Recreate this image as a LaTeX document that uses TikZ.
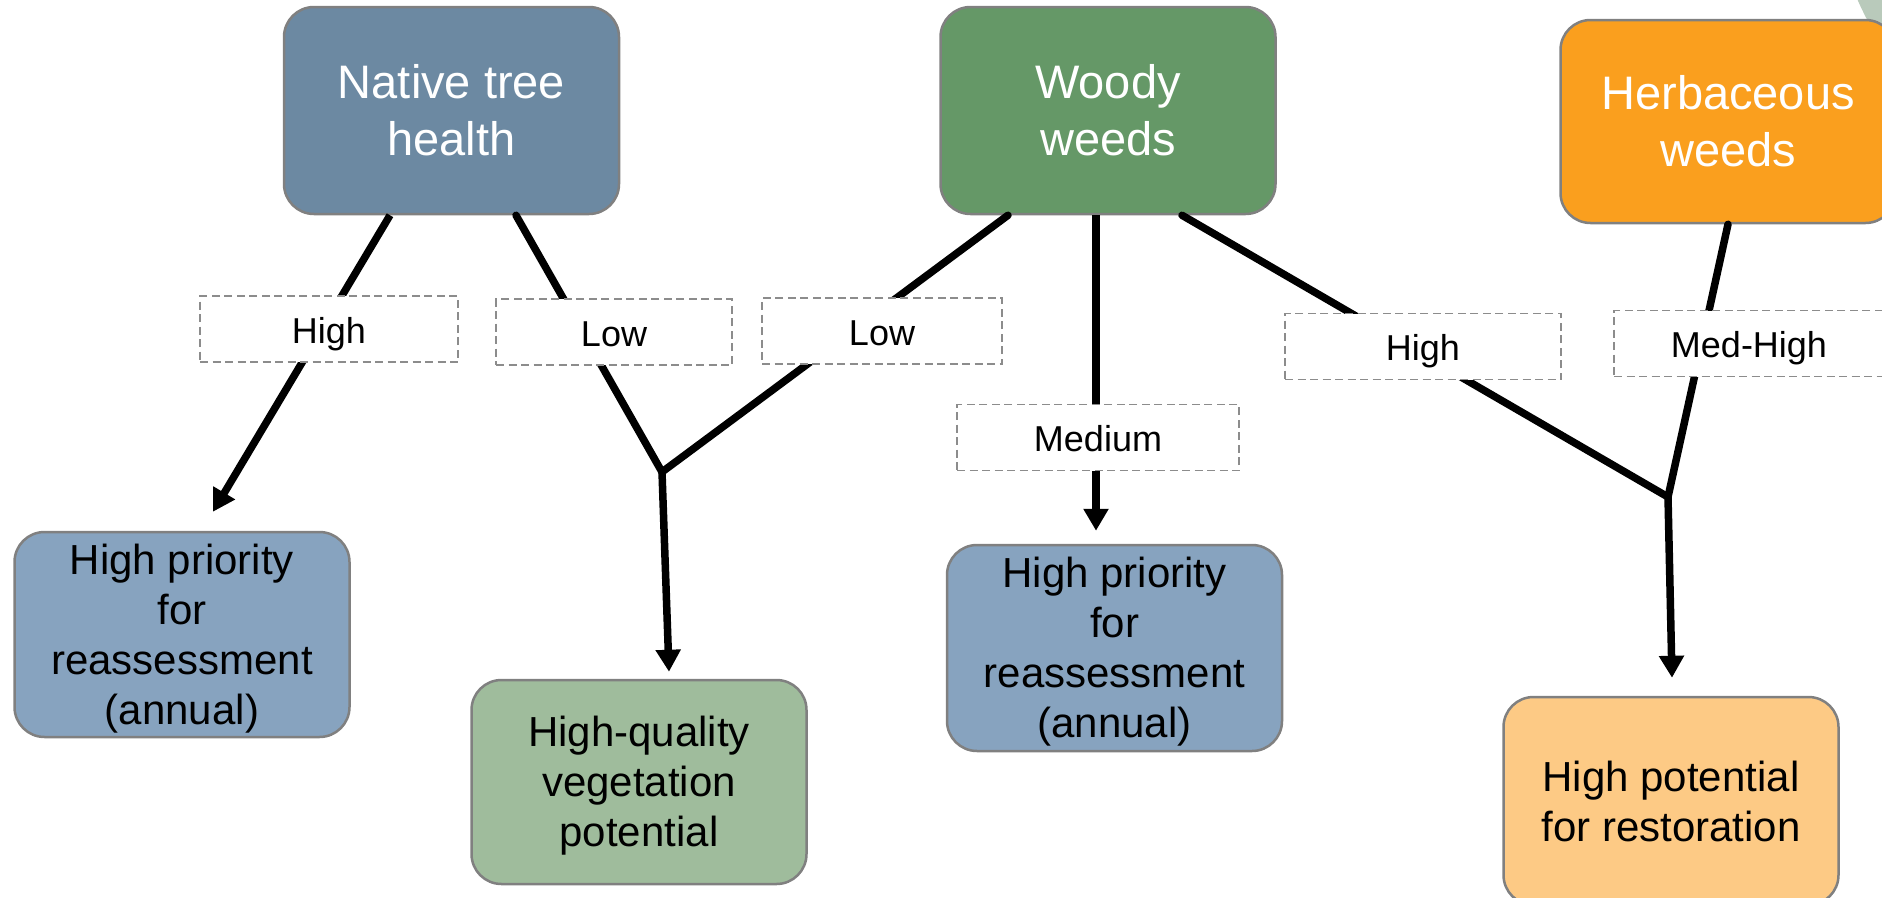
\documentclass[tikz,border=0pt]{standalone}
\usepackage{fontspec}
\setmainfont{Liberation Sans}
\usetikzlibrary{arrows.meta}

\definecolor{hdrblue}{RGB}{108,137,162}
\definecolor{hdrgreen}{RGB}{101,152,103}
\definecolor{hdrorange}{RGB}{250,159,30}
\definecolor{outblue}{RGB}{135,163,191}
\definecolor{outgreen}{RGB}{159,188,156}
\definecolor{outorange}{RGB}{253,202,133}
\definecolor{edgegray}{RGB}{128,128,128}
\definecolor{taggray}{RGB}{140,140,140}
\definecolor{sage}{RGB}{185,202,187}

% full-ascender strut for the first line of a text block
\newcommand{\ascstrut}{\rule{0pt}{0.905em}}

\tikzset{
  box/.style={draw=edgegray, line width=2.5pt, rounded corners=30pt,
    minimum width=335pt, minimum height=207pt, inner sep=0pt, align=center},
  head/.style={box, text=white, font=\fontsize{47}{57}\selectfont},
  outcome/.style={box, text=black, font=\fontsize{42}{50}\selectfont},
  tag/.style={draw=taggray, dash pattern=on 8pt off 4.5pt, line width=1.8pt,
    fill=white, inner sep=0pt, minimum height=66pt,
    text height=35pt, text depth=7pt,
    font=\fontsize{36}{43}\selectfont},
  link/.style={line width=7.5pt, line cap=round, black},
  arrowlink/.style={line width=7.5pt, black, -{Triangle[width=24pt,length=22pt]}}
}

\begin{document}
\begin{tikzpicture}[x=1pt,y=-1pt]
\useasboundingbox (0,0) rectangle (1882,897);
\clip (0,0) rectangle (1882,897);
\fill[white] (0,0) rectangle (1882,897);

% decorative disc peeking in at the top right corner
\fill[sage] (2158,-132) circle (328);

% criteria
\node[head, fill=hdrblue]   (nat)  at (451.5,110.5) {Native tree\\health};
\node[head, fill=hdrgreen]  (wood) at (1108,110.5)  {Woody\\weeds};
\node[head, fill=hdrorange, minimum height=203pt] (herb) at (1728,121.5) {Herbaceous\\weeds};

% outcomes
\node[outcome, fill=outblue, minimum height=205pt]  (prioL)  at (182,634.5)  {\ascstrut High priority\\for\\reassessment\\(annual)};
\node[outcome, fill=outgreen, minimum height=204pt] (qual)   at (639,782)    {\ascstrut High-quality\\vegetation\\potential};
\node[outcome, fill=outblue, minimum height=206pt]  (prioM)  at (1114.5,648) {\ascstrut High priority\\for\\reassessment\\(annual)};
\node[outcome, fill=outorange, minimum height=208pt] (resto) at (1671,801)   {High potential\\for restoration};

% connector end points on the criteria boxes
\coordinate (natL)  at ([xshift=-61.5pt]nat.south);
\coordinate (natR)  at ([xshift=64.5pt]nat.south);
\coordinate (woodL) at ([xshift=-100pt]wood.south);
\coordinate (woodC) at ([xshift=-12pt]wood.south);
\coordinate (woodR) at ([xshift=74pt]wood.south);
\coordinate (herbC) at (herb.south);

% branch points
\coordinate (jL) at (662,472);
\coordinate (jR) at (1668,497);

% arrow tips just above the outcome boxes
\coordinate (tipL) at ([xshift=31pt,yshift=19pt]prioL.north);
\coordinate (tipQ) at ([xshift=30pt,yshift=7pt]qual.north);
\coordinate (tipM) at ([xshift=-18.5pt,yshift=13pt]prioM.north);
\coordinate (tipR) at ([xshift=1pt,yshift=18pt]resto.north);

% connectors
\draw[arrowlink] (natL) -- (tipL);
\draw[link] (natR) -- (jL);
\draw[link] (woodL) -- (jL);
\draw[arrowlink] (jL) -- (tipQ);
\draw[arrowlink] (woodC) -- (tipM);
\draw[link] (woodR) -- (jR);
\draw[link] (herbC) -- (jR);
\draw[arrowlink] (jR) -- (tipR);

% condition labels
\node[tag, minimum width=258pt] (lHighL) at (329,329)    {High};
\node[tag, minimum width=236pt] (lLowL)  at (614,332)    {Low};
\node[tag, minimum width=240pt] (lLowM)  at (882,331)    {Low};
\node[tag, minimum width=282pt] (lMed)   at (1098,437.5) {Medium};
\node[tag, minimum width=276pt] (lHighR) at (1423,346.5) {High};
\node[tag, minimum width=270pt] (lMedH)  at (1749,343.5) {Med-High};
\end{tikzpicture}
\end{document}
